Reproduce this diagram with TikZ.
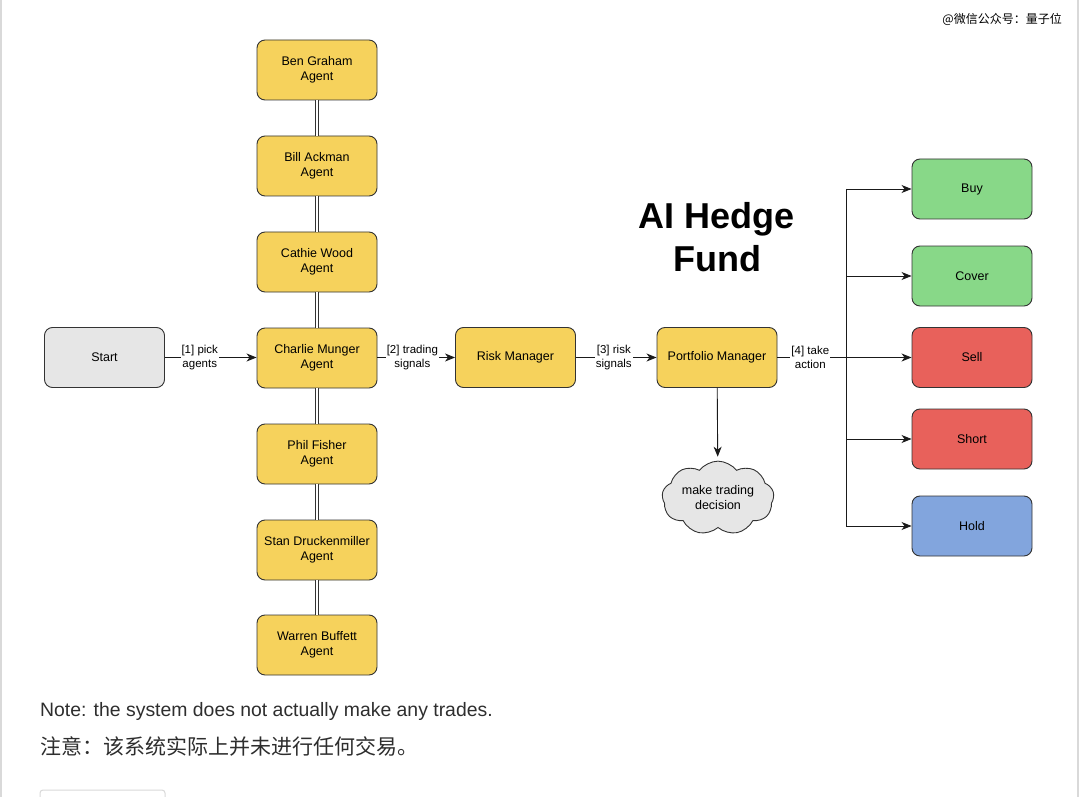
\documentclass[tikz,border=0pt]{standalone}
\usepackage{fontspec}
\setmainfont{Liberation Sans}
\newfontfamily\cjk{Noto Sans CJK SC}
\usetikzlibrary{arrows.meta,shapes.symbols}
\definecolor{agentyellow}{HTML}{F6D25C}
\definecolor{startgray}{HTML}{E6E6E6}
\definecolor{buygreen}{HTML}{88D888}
\definecolor{sellred}{HTML}{E8615B}
\definecolor{holdblue}{HTML}{82A5DD}
\definecolor{edgecol}{HTML}{1A1A1A}
\definecolor{boxline}{HTML}{333333}
\definecolor{notetext}{HTML}{2E2E2E}
\definecolor{frame}{HTML}{D9D9D9}
\begin{document}
\begin{tikzpicture}[x=1pt,y=-1pt,
  box/.style={draw=boxline, line width=0.9pt, rounded corners=8pt,
    minimum width=120pt, minimum height=60pt, align=center,
    font=\fontsize{12.5}{15}\selectfont, text=black},
  agent/.style={box, fill=agentyellow},
  arr/.style={draw=edgecol, line width=0.9pt, -{Stealth[length=10pt,width=8pt,inset=3pt]}},
  plainline/.style={draw=edgecol, line width=0.9pt},
  dbl/.style={draw=boxline, line width=0.6pt, double=white, double distance=2.2pt},
  lbl/.style={fill=white, inner sep=1pt, align=center, font=\fontsize{11.5}{13.5}\selectfont, text=black}
]
\useasboundingbox (0,0) rectangle (1080,797);
\fill[white] (0,0) rectangle (1080,797);
\draw[frame, line width=1.2pt] (1,0) -- (1,797);
\draw[frame, line width=1.2pt] (1078,0) -- (1078,797);

% agents
\node[agent] (bg) at (317,70) {Ben Graham\\Agent};
\node[agent] (ba) at (317,166) {Bill Ackman\\Agent};
\node[agent] (cw) at (317,262) {Cathie Wood\\Agent};
\node[agent] (cm) at (317,358) {Charlie Munger\\Agent};
\node[agent] (pf) at (317,454) {Phil Fisher\\Agent};
\node[agent] (sd) at (317,550) {Stan Druckenmiller\\Agent};
\node[agent] (wb) at (317,645) {Warren Buffett\\Agent};

\draw[dbl] (bg) -- (ba);
\draw[dbl] (ba) -- (cw);
\draw[dbl] (cw) -- (cm);
\draw[dbl] (cm) -- (pf);
\draw[dbl] (pf) -- (sd);
\draw[dbl] (sd) -- (wb);

% main chain
\node[box, fill=startgray] (start) at (104.5,357.5) {Start};
\node[agent] (rm) at (515.5,357.5) {Risk Manager};
\node[agent] (pm) at (717,357.5) {Portfolio Manager};

\draw[arr] (start) -- node[lbl, pos=0.38] {[1] pick\\agents} (cm.west |- start);
\draw[arr] (cm.east |- rm) -- node[lbl, pos=0.45] {[2] trading\\signals} (rm);
\draw[arr] (rm) -- node[lbl, pos=0.47] {[3] risk\\signals} (pm);

% outcomes
\node[box, fill=buygreen] (buy) at (972,189) {Buy};
\node[box, fill=buygreen] (cover) at (972,276) {Cover};
\node[box, fill=sellred] (sell) at (972,357.5) {Sell};
\node[box, fill=sellred] (short) at (972,439) {Short};
\node[box, fill=holdblue] (hold) at (972,526) {Hold};

\draw[arr] (pm) -- node[lbl, pos=0.245] {[4] take\\action} (sell);
\coordinate (br) at (846,357.5);
\coordinate (btop) at (buy.west -| br);
\coordinate (bbot) at (hold.west -| br);
\draw[plainline] (btop) -- (bbot);
\draw[arr] (btop) -- (buy);
\draw[arr] (cover.west -| br) -- (cover);
\draw[arr] (short.west -| br) -- (short);
\draw[arr] (bbot) -- (hold);

% cloud
\node[cloud, cloud puffs=9, cloud puff arc=105, aspect=1.7, draw=boxline, line width=0.9pt,
  fill=startgray, minimum width=112pt, minimum height=70pt, inner sep=0pt, align=center,
  font=\fontsize{12.5}{15}\selectfont] (cl) at (718,498) {make trading\\decision};
\draw[arr, shorten >=4pt] (pm) -- (cl);

% title
\node[font=\fontsize{36}{43}\selectfont\bfseries, align=center] (title) at (717,237.5) {AI Hedge\\Fund};

% notes
\node[anchor=base west, inner sep=0pt, font=\fontsize{19.4}{23}\selectfont, text=notetext] (note) at (40,716) {Note: the system does not actually make any trades.};
\node[anchor=base west, inner sep=0pt, font=\cjk\fontsize{21}{25}\selectfont, text=notetext] (notecn) at (40,754) {注意：该系统实际上并未进行任何交易。};

% watermark
\node[anchor=east, inner sep=0pt, font=\cjk\fontsize{12}{14}\selectfont] (wm) at (1062,19) {@微信公众号：量子位};

% cut-off button at the bottom
\begin{scope}
\clip (0,780) rectangle (1080,797);
\draw[frame, line width=1pt, rounded corners=3pt] (40,790) rectangle (165,810);
\end{scope}
\end{tikzpicture}
\end{document}
